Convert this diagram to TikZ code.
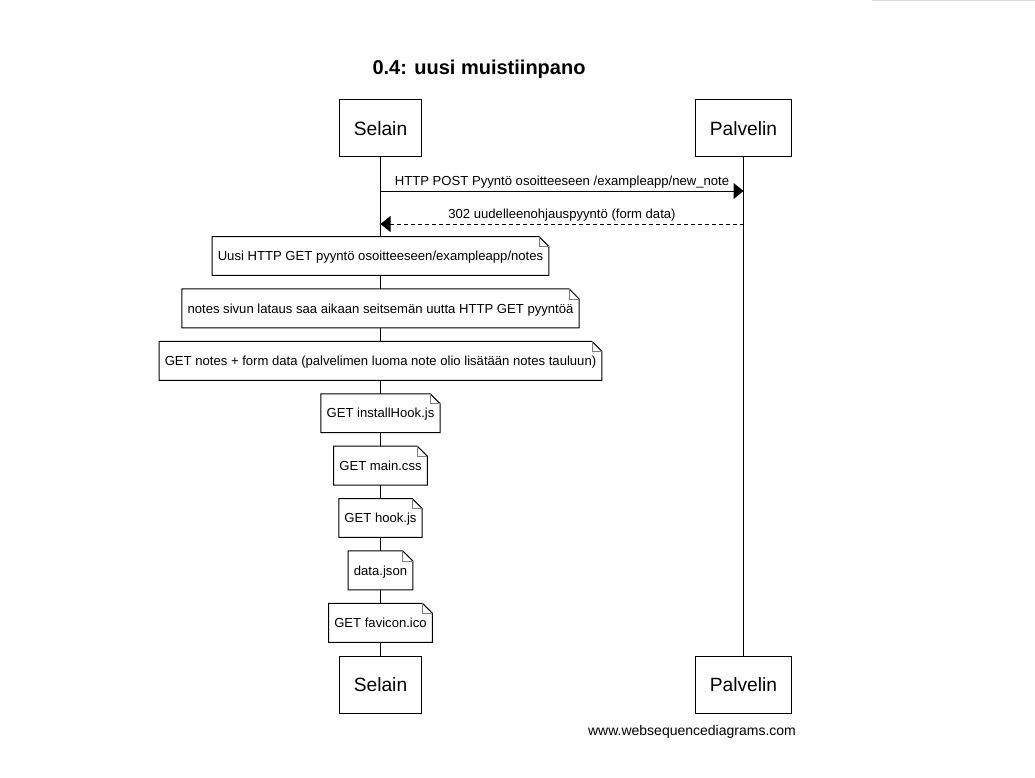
\documentclass[tikz,border=0pt]{standalone}
\usepackage{fontspec}
\setmainfont{Liberation Sans}
\usetikzlibrary{arrows.meta,positioning,backgrounds}

\begin{document}
\begin{tikzpicture}[
    x=1pt, y=-1pt,
    node distance=13.5pt,
    actor/.style={rectangle, draw, line width=1pt, inner xsep=14.5pt, minimum height=57pt, font=\fontsize{19.2}{22}\selectfont},
    note/.style={rectangle, fill=white, inner xsep=5.5pt, minimum height=38.5pt, text depth=0pt, font=\fontsize{13.1}{15}\selectfont},
    msg/.style={-{Triangle[length=10pt,width=16pt]}, line width=1pt},
    reply/.style={msg, dash pattern=on 4pt off 3pt},
    msglabel/.style={font=\fontsize{13.1}{15}\selectfont, inner sep=2pt},
]
\useasboundingbox (0,0) rectangle (1035,778);
\draw[gray!30, line width=1.5pt] (872,0.75) -- (1035,0.75);

% === TITLE ===
\node[font=\fontsize{20}{24}\selectfont\bfseries] (title) at (479,69) {0.4: uusi muistiinpano};

% === ACTORS ===
\node[actor] (selTop) at (380.5,128.5) {Selain};
\node[actor] (palTop) at (743.5,128.5) {Palvelin};
\node[actor] (selBot) at (380.5,684.5) {Selain};
\node[actor] (palBot) at (743.5,684.5) {Palvelin};

% === LIFELINES ===
\begin{scope}[on background layer]
\draw[line width=1pt] (selTop) -- (selBot);
\draw[line width=1pt] (palTop) -- (palBot);
\end{scope}

% === MESSAGES ===
\coordinate (post) at (0,191);
\coordinate (redirect) at (0,224);
\draw[msg] (selTop.south |- post) -- (palTop.south |- post)
    node[midway, above, msglabel] {HTTP POST Pyyntö osoitteeseen /exampleapp/new\_note};
\draw[reply] (palTop.south |- redirect) -- (selTop.south |- redirect)
    node[midway, above, msglabel] {302 uudelleenohjauspyyntö (form data)};

% === NOTES ===
\node[note] (getNotes) at (380.5,256) {Uusi HTTP GET pyyntö osoitteeseen/exampleapp/notes};
\node[note, below=of getNotes] (sevenGets) {notes sivun lataus saa aikaan seitsemän uutta HTTP GET pyyntöä};
\node[note, below=of sevenGets] (formData) {GET notes + form data (palvelimen luoma note olio lisätään notes tauluun)};
\node[note, below=of formData] (installHook) {GET installHook.js};
\node[note, below=of installHook] (mainCss) {GET main.css};
\node[note, below=of mainCss] (hookJs) {GET hook.js};
\node[note, below=of hookJs] (dataJson) {data.json};
\node[note, below=of dataJson] (favicon) {GET favicon.ico};

\foreach \n in {getNotes,sevenGets,formData,installHook,mainCss,hookJs,dataJson,favicon} {
    \draw[line width=1pt] (\n.south west) -- (\n.north west) -- ([xshift=-10pt]\n.north east)
        -- ([yshift=-10pt]\n.north east) -- (\n.south east) -- cycle;
    \draw[line width=0.8pt, gray] ([xshift=-10pt]\n.north east) |- ([yshift=-10pt]\n.north east);
}

% === FOOTER ===
\node[font=\fontsize{14}{16}\selectfont] (footer) at (692,732) {www.websequencediagrams.com};

\end{tikzpicture}
\end{document}
